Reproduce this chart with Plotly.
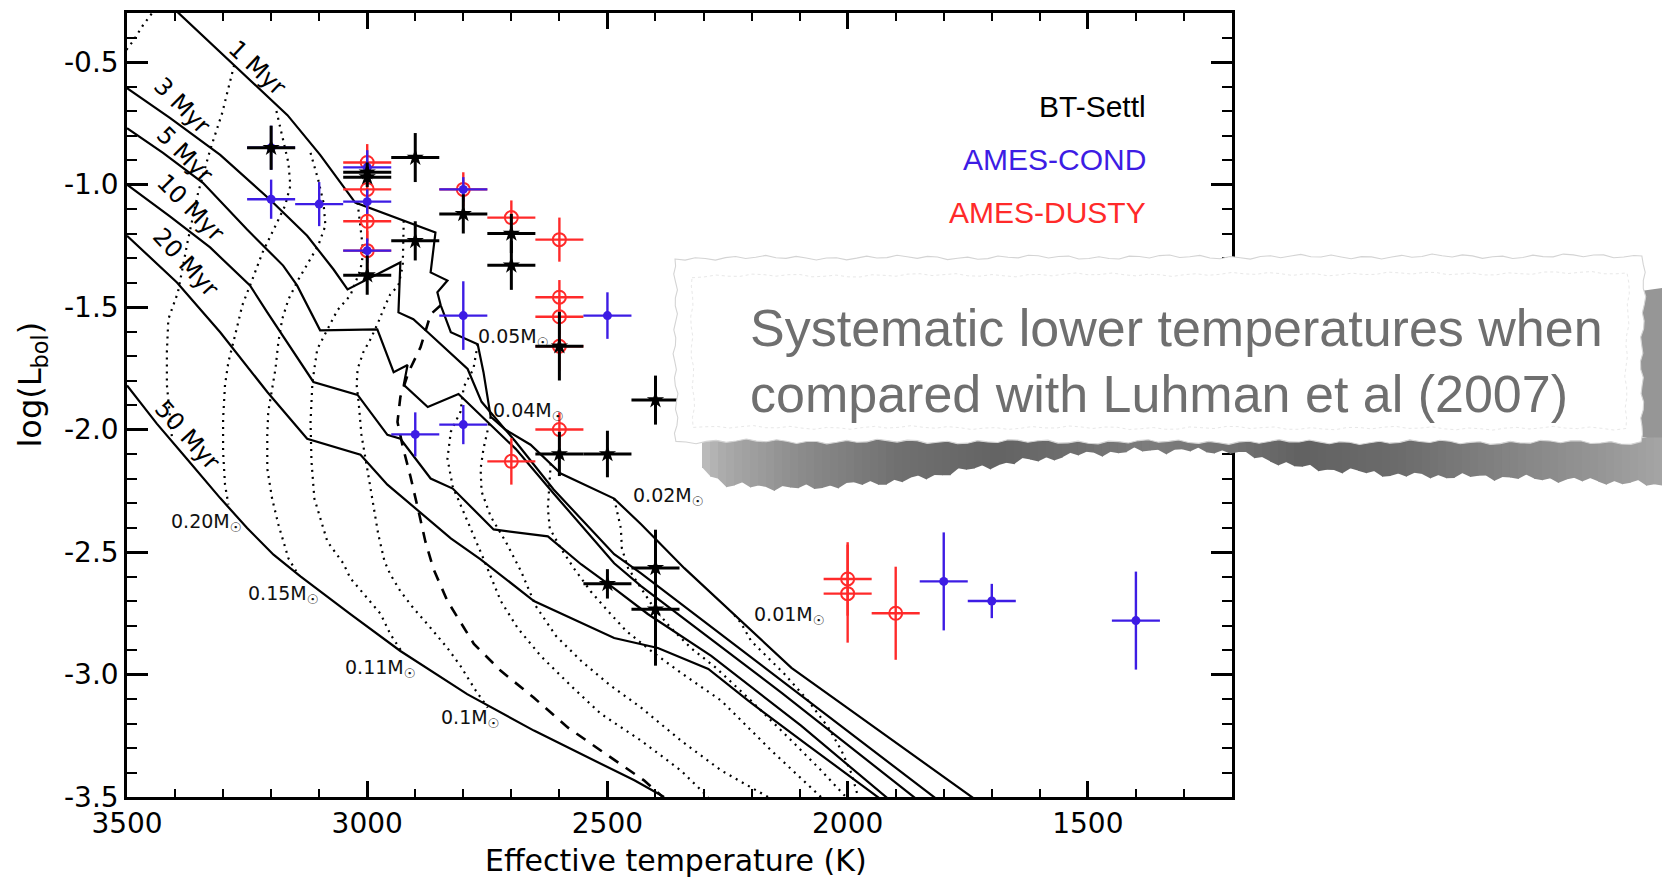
import math
import plotly.graph_objects as go

# ---------------- observed objects: three atmosphere-model fits ----------------
# BT-Settl (black stars)
settl_teff = [3200, 2900, 3000, 3000, 3000, 2900, 2800, 2700, 2700, 2600, 2400, 2600, 2500, 2500, 2400, 2400]
settl_logl = [-0.85, -0.89, -0.95, -0.97, -1.37, -1.23, -1.12, -1.20, -1.33, -1.66, -1.88, -2.10, -2.10, -2.63, -2.565, -2.734]
settl_err_teff = [50, 50, 50, 50, 50, 50, 50, 50, 50, 50, 50, 50, 50, 50, 50, 50]
settl_err_logl = [0.09, 0.10, 0.04, 0.04, 0.08, 0.08, 0.08, 0.08, 0.10, 0.14, 0.10, 0.09, 0.095, 0.06, 0.156, 0.23]

# AMES-COND (blue dots)
cond_teff = [3200, 3200, 3100, 3000, 3000, 3000, 2800, 2800, 2500, 2900, 2800, 1800, 1700, 1400]
cond_logl = [-0.85, -1.06, -1.08, -0.93, -1.07, -1.27, -1.02, -1.535, -1.535, -2.02, -1.98, -2.62, -2.70, -2.78]
cond_err_teff = [50, 50, 50, 50, 50, 50, 50, 50, 50, 50, 50, 50, 50, 50]
cond_err_logl = [0.09, 0.08, 0.09, 0.07, 0.05, 0.05, 0.05, 0.14, 0.095, 0.09, 0.08, 0.20, 0.07, 0.20]

# AMES-DUSTY (red open circles)
dusty_teff = [3000, 3000, 3000, 3000, 2800, 2700, 2600, 2600, 2600, 2600, 2600, 2700, 2000, 2000, 1900]
dusty_logl = [-0.91, -1.02, -1.15, -1.27, -1.02, -1.135, -1.225, -1.46, -1.54, -1.66, -2.00, -2.13, -2.61, -2.67, -2.75]
dusty_err_teff = [50, 50, 50, 50, 50, 50, 50, 50, 50, 50, 50, 50, 50, 50, 50]
dusty_err_logl = [0.075, 0.08, 0.08, 0.08, 0.07, 0.07, 0.09, 0.07, 0.07, 0.10, 0.07, 0.095, 0.15, 0.20, 0.19]

# ---------------- isochrones (solid) ----------------
iso_1myr_teff = [3420, 3285, 3166, 3098, 3056, 3025, 2858, 2868, 2833, 2854, 2847, 2826, 2770, 2758, 2743, 2712, 2660, 2597, 2486, 2430, 2340, 2117, 2013, 1738]
iso_1myr_logl = [-0.25, -0.497, -0.717, -0.879, -0.993, -1.074, -1.196, -1.359, -1.392, -1.440, -1.493, -1.603, -1.652, -1.766, -1.948, -2.001, -2.062, -2.180, -2.282, -2.387, -2.566, -2.973, -3.119, -3.505]
iso_3myr_teff = [3500, 3410, 3306, 3202, 3125, 3070, 3041, 2931, 2935, 2904, 2874, 2791, 2762, 2691, 2612, 2486, 2430, 2124, 1817]
iso_3myr_logl = [-0.607, -0.729, -0.879, -1.062, -1.209, -1.347, -1.428, -1.318, -1.522, -1.550, -1.603, -1.753, -1.887, -2.050, -2.245, -2.509, -2.587, -3.046, -3.505]
iso_5myr_teff = [3500, 3425, 3342, 3250, 3175, 3146, 3098, 2979, 2945, 2916, 2924, 2874, 2810, 2749, 2691, 2612, 2486, 2430, 2138, 1859]
iso_5myr_logl = [-0.770, -0.871, -0.993, -1.184, -1.331, -1.412, -1.595, -1.591, -1.766, -1.737, -1.818, -1.908, -1.855, -1.969, -2.079, -2.261, -2.546, -2.639, -3.074, -3.505]
iso_10myr_teff = [3500, 3410, 3327, 3244, 3208, 3160, 3112, 3020, 2958, 2931, 2868, 2822, 2737, 2624, 2555, 2486, 2416, 2284, 2097, 1917]
iso_10myr_logl = [-1.001, -1.131, -1.257, -1.412, -1.522, -1.664, -1.806, -1.859, -2.022, -2.038, -2.200, -2.241, -2.408, -2.436, -2.550, -2.648, -2.753, -2.924, -3.209, -3.505]
iso_20myr_teff = [3500, 3396, 3306, 3208, 3125, 3014, 2958, 2904, 2826, 2764, 2653, 2486, 2395, 2290, 2207, 2082, 1934]
iso_20myr_logl = [-1.209, -1.400, -1.603, -1.847, -2.038, -2.103, -2.225, -2.314, -2.444, -2.530, -2.700, -2.851, -2.892, -2.977, -3.107, -3.290, -3.505]
iso_50myr_teff = [3500, 3438, 3376, 3306, 3250, 3195, 3139, 3035, 2931, 2792, 2653, 2514, 2444, 2382]
iso_50myr_logl = [-1.820, -1.976, -2.118, -2.280, -2.402, -2.511, -2.599, -2.754, -2.904, -3.080, -3.229, -3.364, -3.432, -3.500]

# ---------------- evolutionary tracks (dotted), one per mass ----------------
trk_hi_teff = [3440, 3467, 3488, 3510]
trk_hi_logl = [-0.28, -0.351, -0.416, -0.473]
trk_a_teff = [3277, 3302, 3327, 3352, 3373, 3394, 3414, 3417, 3417, 3410, 3406]
trk_a_logl = [-0.513, -0.709, -0.859, -1.034, -1.225, -1.440, -1.550, -1.684, -1.818, -1.981, -2.042]
trk_020_teff = [3189, 3175, 3164, 3160, 3171, 3185, 3198, 3218, 3239, 3260, 3275, 3289, 3296, 3300, 3300, 3296, 3289]
trk_020_logl = [-0.700, -0.818, -0.912, -1.005, -1.087, -1.144, -1.196, -1.278, -1.387, -1.493, -1.615, -1.725, -1.818, -1.957, -2.091, -2.225, -2.306]
trk_015_teff = [3118, 3102, 3091, 3087, 3102, 3123, 3143, 3164, 3177, 3185, 3191, 3206, 3208, 3208, 3198, 3185, 3164, 3148]
trk_015_logl = [-0.871, -0.981, -1.074, -1.168, -1.249, -1.318, -1.387, -1.469, -1.550, -1.644, -1.753, -1.928, -2.022, -2.160, -2.282, -2.387, -2.526, -2.578]
trk_011_teff = [3020, 3014, 3008, 3014, 3035, 3062, 3085, 3104, 3114, 3118, 3116, 3110, 3083, 3050, 3035, 3000, 2972, 2952, 2929]
trk_011_logl = [-1.074, -1.184, -1.278, -1.347, -1.452, -1.513, -1.603, -1.672, -1.806, -1.969, -2.131, -2.282, -2.457, -2.546, -2.607, -2.688, -2.753, -2.835, -2.904]
trk_010_teff = [2924, 2926, 2935, 2952, 2966, 2977, 2993, 3008, 3020, 3022, 3018, 3012, 3000, 2989, 2977, 2964, 2952, 2931, 2904, 2868, 2833, 2806, 2774, 2749]
trk_010_logl = [-1.148, -1.331, -1.412, -1.448, -1.509, -1.562, -1.631, -1.684, -1.753, -1.818, -1.887, -2.022, -2.160, -2.294, -2.428, -2.538, -2.591, -2.660, -2.729, -2.810, -2.892, -2.965, -3.066, -3.135]
trk_005_teff = [2770, 2779, 2799, 2806, 2826, 2833, 2822, 2795, 2760, 2722, 2687, 2639, 2576, 2514, 2430, 2347, 2290]
trk_005_logl = [-1.652, -1.753, -1.826, -1.928, -2.009, -2.119, -2.233, -2.355, -2.518, -2.700, -2.810, -2.924, -3.046, -3.160, -3.270, -3.392, -3.501]
trk_004_teff = [2743, 2758, 2764, 2762, 2743, 2712, 2680, 2649, 2607, 2555, 2493, 2430, 2347, 2263, 2165]
trk_004_logl = [-1.948, -2.079, -2.160, -2.253, -2.355, -2.457, -2.578, -2.721, -2.843, -2.944, -3.046, -3.135, -3.270, -3.392, -3.501]
trk_003_teff = [2618, 2624, 2620, 2597, 2570, 2535, 2499, 2461, 2409, 2347, 2263, 2159, 2055]
trk_003_logl = [-2.139, -2.322, -2.404, -2.485, -2.566, -2.660, -2.741, -2.822, -2.904, -2.993, -3.107, -3.310, -3.501]
trk_002_teff = [2486, 2472, 2470, 2457, 2430, 2403, 2368, 2326, 2274, 2201, 2117, 2055, 2003]
trk_002_logl = [-2.282, -2.404, -2.485, -2.566, -2.648, -2.729, -2.810, -2.892, -2.973, -3.107, -3.270, -3.392, -3.501]
trk_001_teff = [2236, 2222, 2201, 2165, 2132, 2082, 2040, 2013, 1992, 1978]
trk_001_logl = [-2.757, -2.790, -2.863, -2.932, -2.997, -3.107, -3.217, -3.310, -3.404, -3.501]

# hydrogen-burning boundary track (dashed)
trk_hbl_teff = [2847, 2868, 2889, 2914, 2931, 2937, 2926, 2910, 2893, 2879, 2862, 2833, 2778, 2722, 2653, 2582, 2514, 2424, 2384]
trk_hbl_logl = [-1.493, -1.530, -1.664, -1.766, -1.867, -1.969, -2.070, -2.192, -2.335, -2.457, -2.570, -2.700, -2.875, -2.985, -3.095, -3.217, -3.310, -3.432, -3.501]

# ---------------- labels ----------------
age_labels = ["1 Myr", "3 Myr", "5 Myr", "10 Myr", "20 Myr", "50 Myr"]
age_label_teff = [3229, 3385, 3379, 3367, 3379, 3375]
age_label_logl = [-0.526, -0.680, -0.879, -1.095, -1.318, -2.022]
age_label_angle = [43, 45, 45, 45, 47, 48]

mass_labels = ["0.20M", "0.15M", "0.11M", "0.1M", "0.05M", "0.04M", "0.02M", "0.01M"]
mass_label_teff = [3335, 3175, 2972, 2785, 2695, 2664, 2372, 2122]
mass_label_logl = [-2.379, -2.672, -2.977, -3.180, -1.623, -1.928, -2.274, -2.761]

y_tick_vals = [-3.5, -3.0, -2.5, -2.0, -1.5, -1.0, -0.5]
y_tick_text = ["-3.5", "-3.0", "-2.5", "-2.0", "-1.5", "-1.0", "-0.5"]

BLACK = "#000000"
BLUE = "#3d1ce4"
RED = "#ff2a2a"
FONT = "DejaVu Sans"

fig = go.Figure()

isochrones = [
    (iso_1myr_teff, iso_1myr_logl), (iso_3myr_teff, iso_3myr_logl),
    (iso_5myr_teff, iso_5myr_logl), (iso_10myr_teff, iso_10myr_logl),
    (iso_20myr_teff, iso_20myr_logl), (iso_50myr_teff, iso_50myr_logl),
]
tracks = [
    (trk_hi_teff, trk_hi_logl), (trk_a_teff, trk_a_logl), (trk_020_teff, trk_020_logl),
    (trk_015_teff, trk_015_logl), (trk_011_teff, trk_011_logl), (trk_010_teff, trk_010_logl),
    (trk_005_teff, trk_005_logl), (trk_004_teff, trk_004_logl), (trk_003_teff, trk_003_logl),
    (trk_002_teff, trk_002_logl), (trk_001_teff, trk_001_logl),
]

for t, l in tracks:
    fig.add_trace(go.Scatter(x=t, y=l, mode="lines", hoverinfo="skip",
                             line=dict(color=BLACK, width=2.2, dash="2px,5px")))
fig.add_trace(go.Scatter(x=trk_hbl_teff, y=trk_hbl_logl, mode="lines", hoverinfo="skip",
                         line=dict(color=BLACK, width=2.6, dash="11px,9px")))
for t, l in isochrones:
    fig.add_trace(go.Scatter(x=t, y=l, mode="lines", hoverinfo="skip",
                             line=dict(color=BLACK, width=2.2)))

# data points with error crosses
fig.add_trace(go.Scatter(
    x=dusty_teff, y=dusty_logl, mode="markers", name="AMES-DUSTY",
    marker=dict(symbol="circle-open", size=13, color=RED, line=dict(width=2, color=RED)),
    error_x=dict(type="data", array=dusty_err_teff, color=RED, thickness=2.4, width=0),
    error_y=dict(type="data", array=dusty_err_logl, color=RED, thickness=2.4, width=0)))
fig.add_trace(go.Scatter(
    x=cond_teff, y=cond_logl, mode="markers", name="AMES-COND",
    marker=dict(symbol="circle", size=9, color=BLUE),
    error_x=dict(type="data", array=cond_err_teff, color=BLUE, thickness=2.4, width=0),
    error_y=dict(type="data", array=cond_err_logl, color=BLUE, thickness=2.4, width=0)))
fig.add_trace(go.Scatter(
    x=settl_teff, y=settl_logl, mode="markers", name="BT-Settl",
    marker=dict(symbol="star", size=13, color=BLACK),
    error_x=dict(type="data", array=settl_err_teff, color=BLACK, thickness=3, width=0),
    error_y=dict(type="data", array=settl_err_logl, color=BLACK, thickness=3, width=0)))

annotations = []
for txt, t, l, ang in zip(age_labels, age_label_teff, age_label_logl, age_label_angle):
    annotations.append(dict(x=t, y=l, xref="x", yref="y", text=txt, showarrow=False,
                            textangle=ang, font=dict(family=FONT, size=24, color=BLACK)))
for txt, t, l in zip(mass_labels, mass_label_teff, mass_label_logl):
    annotations.append(dict(x=t, y=l, xref="x", yref="y", showarrow=False,
                            text=txt + "<sub>\u2609</sub>",
                            font=dict(family=FONT, size=19, color="#111111")))

# ---- page geometry (pixels) ----
W, H = 1662, 878
ML, MR, MT, MB = 127, 430, 10, 81
PW = W - ML - MR
PH = H - MT - MB


def to_paper(x, y):
    return (x - ML) / PW, (H - MB - y) / PH


def svg_path(pts):
    out = []
    for i, (x, y) in enumerate(pts):
        u, v = to_paper(x, y)
        out.append(("M" if i == 0 else "L") + f"{u:.5f},{v:.5f}")
    return " ".join(out) + " Z"


def ragged(x0, y0, x1, y1, step, amp, phase):
    # points along an edge with a small deterministic wobble
    dx, dy = x1 - x0, y1 - y0
    length = math.hypot(dx, dy)
    n = max(2, int(length / step))
    nx, ny = -dy / length, dx / length
    pts = []
    for i in range(n):
        t = i / n
        w = amp * (0.6 * math.sin(i * 1.9 + phase) + 0.4 * math.sin(i * 0.47 + 2 * phase))
        pts.append((x0 + dx * t + nx * w, y0 + dy * t + ny * w))
    return pts


shapes = []

# right-hand shadow of the note
edge = [(1662, 286)] + ragged(1636, 290, 1638, 440, 6, 3, 0.7) + [(1662, 440)]
shapes.append(dict(type="path", xref="paper", yref="paper", path=svg_path(edge),
                   fillcolor="rgb(150,150,150)", line=dict(width=0), layer="above"))

# bottom shadow, drawn as thin slices so the grey can vary along it
prof = [(702, 466, 190), (725, 484, 170), (800, 487, 140), (900, 480, 112), (1000, 463, 100),
        (1080, 453, 112), (1150, 449, 125), (1230, 450, 115), (1300, 466, 98), (1400, 474, 108),
        (1500, 476, 130), (1600, 480, 150), (1662, 484, 165)]


def interp(x, k):
    for a, b in zip(prof[:-1], prof[1:]):
        if a[0] <= x <= b[0]:
            f = (x - a[0]) / (b[0] - a[0])
            return a[k] + f * (b[k] - a[k])
    return prof[-1][k]


xs = list(range(702, 1662, 8)) + [1662]
for i in range(len(xs) - 1):
    xa, xb = xs[i], xs[i + 1]
    ja = 2.5 * math.sin(i * 2.3) + 1.5 * math.sin(i * 0.9)
    jb = 2.5 * math.sin((i + 1) * 2.3) + 1.5 * math.sin((i + 1) * 0.9)
    g = int(interp((xa + xb) / 2, 2))
    poly = [(xa, 436), (xb + 0.6, 436), (xb + 0.6, interp(xb, 1) + jb), (xa, interp(xa, 1) + ja)]
    shapes.append(dict(type="path", xref="paper", yref="paper", path=svg_path(poly),
                       fillcolor=f"rgb({g},{g},{g})", line=dict(width=0), layer="above"))

# the note itself: torn white paper with a faint edge
outer = (ragged(675, 256, 1644, 254, 10, 2.5, 0.3) + ragged(1644, 254, 1641, 441, 8, 2.5, 1.1)
         + ragged(1641, 441, 676, 440, 10, 2.5, 2.0) + ragged(676, 440, 675, 256, 8, 2.5, 2.9))
shapes.append(dict(type="path", xref="paper", yref="paper", path=svg_path(outer),
                   fillcolor="white", line=dict(color="rgb(212,212,212)", width=1.1), layer="above"))
inner = (ragged(692, 274, 1628, 271, 12, 2, 0.9) + ragged(1628, 271, 1626, 427, 10, 2, 1.7)
         + ragged(1626, 427, 693, 426, 12, 2, 2.6) + ragged(693, 426, 692, 274, 10, 2, 3.3))
shapes.append(dict(type="path", xref="paper", yref="paper", path=svg_path(inner),
                   fillcolor="rgba(0,0,0,0)", line=dict(color="rgb(232,232,232)", width=1, dash="dot"),
                   layer="above"))

note_lines = ["Systematic lower temperatures when", "compared with Luhman et al (2007)"]
for txt, ypx in zip(note_lines, [326, 392]):
    u, v = to_paper(748, ypx)
    annotations.append(dict(x=u, y=v, xref="paper", yref="paper", text=txt, showarrow=False,
                            xanchor="left", yanchor="middle",
                            font=dict(family="Liberation Sans", size=52, color="#6f6f6f")))

# model key
for txt, col, ypx in zip(["BT-Settl", "AMES-COND", "AMES-DUSTY"], [BLACK, BLUE, RED], [104, 157, 210]):
    u, v = to_paper(1148, ypx)
    annotations.append(dict(x=u, y=v, xref="paper", yref="paper", text=txt, showarrow=False,
                            xanchor="right", yanchor="middle",
                            font=dict(family="Liberation Sans", size=30, color=col)))

# axis titles
u, v = to_paper(676, 861)
annotations.append(dict(x=u, y=v, xref="paper", yref="paper", text="Effective temperature (K)",
                        showarrow=False, xanchor="center", yanchor="middle",
                        font=dict(family=FONT, size=30, color=BLACK)))
u, v = to_paper(32, 383)
annotations.append(dict(x=u, y=v, xref="paper", yref="paper", text="log(L<sub>bol</sub>)",
                        showarrow=False, xanchor="center", yanchor="middle", textangle=-90,
                        font=dict(family=FONT, size=32, color=BLACK)))

axis_common = dict(showgrid=False, zeroline=False, showline=True, linecolor=BLACK, linewidth=2.5,
                   mirror="allticks", ticks="inside", tickcolor=BLACK, tickwidth=2.5,
                   tickfont=dict(family=FONT, size=28, color=BLACK))

fig.update_layout(
    width=W, height=H, margin=dict(l=ML, r=MR, t=MT, b=MB, pad=0),
    paper_bgcolor="white", plot_bgcolor="white", showlegend=False,
    font=dict(family=FONT, color=BLACK),
    xaxis=dict(range=[3500, 1200], tickmode="linear", tick0=1500, dtick=500, ticklen=16,
               minor=dict(ticks="inside", ticklen=8, tickwidth=2, tickcolor=BLACK,
                          tickmode="linear", tick0=1500, dtick=100),
               **axis_common),
    yaxis=dict(range=[-3.5, -0.3], tickmode="array", tickvals=y_tick_vals, ticktext=y_tick_text,
               ticklen=21,
               minor=dict(ticks="inside", ticklen=10, tickwidth=2, tickcolor=BLACK,
                          tickmode="linear", tick0=-3.5, dtick=0.1),
               **axis_common),
    annotations=annotations, shapes=shapes,
)

fig.write_html("out.html", config={"displayModeBar": False})
